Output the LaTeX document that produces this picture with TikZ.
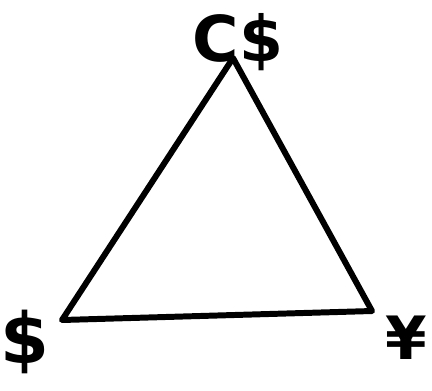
\documentclass[tikz,border=0pt]{standalone}
\usepackage{fontspec}
\setmainfont{DejaVu Sans}
\usepackage{tikz}
\usetikzlibrary{positioning}

\begin{document}
\begin{tikzpicture}[
    x=0.02cm, y=-0.02cm,
    edge/.style={line width=3.4pt, line join=round, line cap=round},
    cur/.style={inner sep=0pt, font=\bfseries\fontsize{36}{36}\selectfont}
]
\useasboundingbox (0,0) rectangle (432,390);
\coordinate (cad) at (233,58);
\coordinate (usd) at (62,320);
\coordinate (jpy) at (372,311);
\node[cur] (lcad) at (238,42) {C\$};
\node[cur, font=\bfseries\fontsize{40}{40}\selectfont] (lusd) at (25,342) {\$};
\node[cur, font=\bfseries\fontsize{34}{34}\selectfont] (ljpy) at (406,338) {¥};
\draw[edge] (cad) -- (jpy) -- (usd) -- cycle;
\end{tikzpicture}
\end{document}
